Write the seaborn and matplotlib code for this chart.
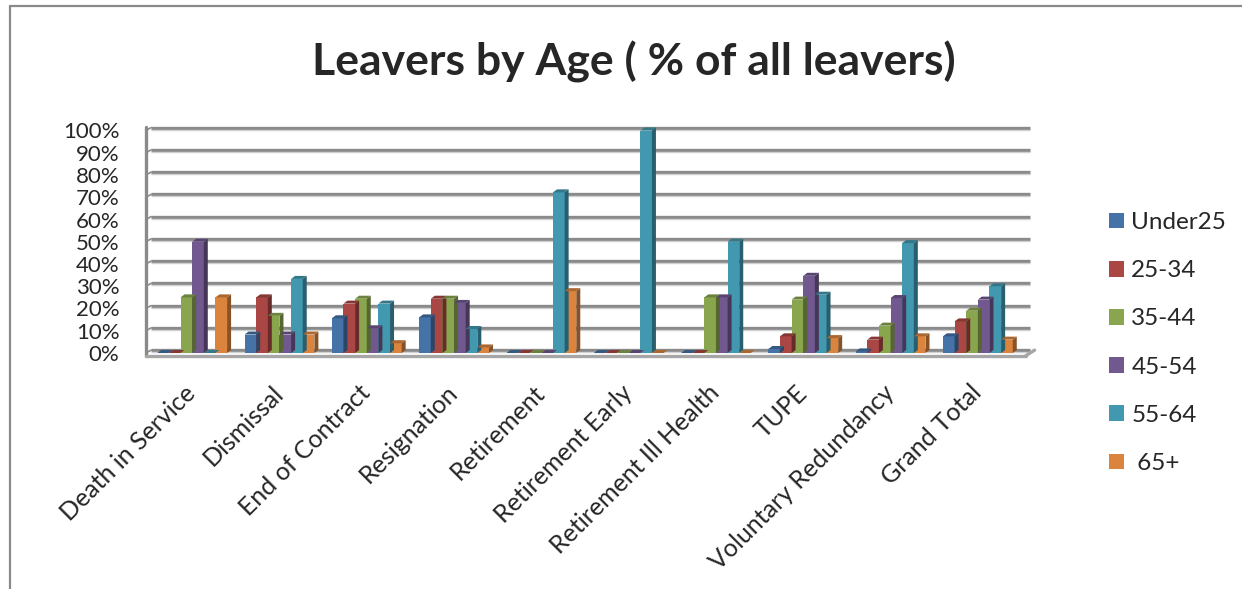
import numpy as np
import pandas as pd
import matplotlib
matplotlib.use("Agg")
import matplotlib.pyplot as plt
import seaborn as sns
from matplotlib.lines import Line2D
from matplotlib.patches import Polygon
from matplotlib.ticker import FuncFormatter
import matplotlib.colors as mcolors

# ---------------- data ----------------
categories = ["Death in Service", "Dismissal", "End of Contract", "Resignation",
              "Retirement", "Retirement Early", "Retirement Ill Health", "TUPE",
              "Voluntary Redundancy", "Grand Total"]
age_groups = ["Under25", "25-34", "35-44", "45-54", "55-64", " 65+"]
under25 = [0, 8.3, 15.6, 16.0, 0, 0, 0, 1.8, 0.7, 7.5]
age_25_34 = [0, 25.0, 22.2, 24.4, 0, 0, 0, 7.5, 6.0, 14.2]
age_35_44 = [25.0, 16.7, 24.4, 24.4, 0, 0, 25.0, 24.0, 12.3, 19.0]
age_45_54 = [50.0, 8.3, 11.1, 22.5, 0, 0, 25.0, 34.7, 24.7, 24.0]
age_55_64 = [0, 33.3, 22.2, 10.8, 72.2, 100.0, 50.0, 26.2, 49.4, 30.0]
age_65_plus = [25.0, 8.3, 4.4, 2.5, 27.8, 0, 0, 6.7, 7.5, 6.0]
y_ticks = [0, 10, 20, 30, 40, 50, 60, 70, 80, 90, 100]

colors = ["#4572A7", "#AA4643", "#89A54E", "#71588F", "#4198AF", "#DB843D"]

series = [under25, age_25_34, age_35_44, age_45_54, age_55_64, age_65_plus]
rows = []
for g, vals in zip(age_groups, series):
    for c, v in zip(categories, vals):
        rows.append({"Category": c, "Age": g, "Percent": v})
df = pd.DataFrame(rows)

# ---------------- figure ----------------
W, H = 1242, 589
fig = plt.figure(figsize=(W / 100, H / 100), dpi=100)
sns.set_style("white")
FONT = ["Lato", "DejaVu Sans"]
plt.rcParams["font.family"] = FONT

ax_left, ax_right = 148.5, 1021.5
ax_bottom, ax_top = 353, 130.5
ax = fig.add_axes([ax_left / W, 1 - ax_bottom / H,
                   (ax_right - ax_left) / W, (ax_bottom - ax_top) / H])

grid_col = "#8a8a8a"
# gridlines (back wall), slightly offset to mimic 3D
for t in y_ticks:
    ax.plot([-0.47, 9.6], [t + 1.3, t + 1.3], color=grid_col, lw=2.4,
            zorder=0, clip_on=False, solid_capstyle="butt")
    ax.plot([-0.47, 9.6], [t + 0.4, t + 0.4], color="#d0d0d0", lw=1.0,
            zorder=0, clip_on=False, solid_capstyle="butt")
    ax.plot([-0.53, -0.47], [t, t + 1.3], color=grid_col, lw=1.2,
            zorder=0, clip_on=False)

sns.barplot(data=df, x="Category", y="Percent", hue="Age", order=categories,
            hue_order=age_groups, palette=colors, width=0.8, saturation=1,
            ax=ax, zorder=3, linewidth=0)

ax.set_xlim(-0.5, 9.5)
ax.set_ylim(0, 100)

# 3D side/top faces from the drawn bar patches
fig.canvas.draw()
px_to_x = 10.0 / (ax_right - ax_left)
px_to_y = 100.0 / (ax_bottom - ax_top)
dx, dy = 4 * px_to_x, 3 * px_to_y
bars = [p for p in ax.patches if hasattr(p, "get_height") and p.get_width() > 0]
for p in bars:
    x0, w, h = p.get_x(), p.get_width(), p.get_height()
    fc = np.array(mcolors.to_rgb(p.get_facecolor()))
    side = Polygon([(x0 + w, 0), (x0 + w + dx, dy), (x0 + w + dx, h + dy), (x0 + w, h)],
                   closed=True, facecolor=tuple(fc * 0.62), edgecolor="none",
                   zorder=3, clip_on=False)
    top = Polygon([(x0, h), (x0 + w, h), (x0 + w + dx, h + dy), (x0 + dx, h + dy)],
                  closed=True, facecolor=tuple(fc * 0.78), edgecolor="none",
                  zorder=3, clip_on=False)
    ax.add_patch(side)
    ax.add_patch(top)

# axes frame: left wall and floor
for s in ["top", "right", "bottom", "left"]:
    ax.spines[s].set_visible(False)
ax.plot([-0.53, -0.53], [-1.2, 101.5], color=grid_col, lw=2.4, clip_on=False, zorder=1)
ax.plot([-0.53, 9.55], [-1.2, -1.2], color="#a6a6a6", lw=2.4, clip_on=False, zorder=4)
ax.plot([9.55, 9.65], [-1.2, 1.3], color="#a6a6a6", lw=2.4, clip_on=False, zorder=4)

ax.set_yticks(y_ticks)
ax.yaxis.set_major_formatter(FuncFormatter(lambda v, _: f"{int(v)}%"))
ax.tick_params(axis="y", length=0, pad=21, labelsize=16)
ax.tick_params(axis="x", length=0, pad=26, labelsize=18)
ax.set_xticks(range(len(categories)))
ax.set_xticklabels(categories, rotation=45, ha="right", va="center",
                   rotation_mode="anchor")
for lbl in ax.get_xticklabels() + ax.get_yticklabels():
    lbl.set_family(FONT)
ax.set_xlabel("")
ax.set_ylabel("")
ax.grid(False)

# legend
handles, labels = ax.get_legend_handles_labels()
if ax.get_legend() is not None:
    ax.get_legend().remove()
fig.legend(handles, labels, loc="upper left",
           bbox_to_anchor=(1109 / W, 1 - 212 / H), frameon=False,
           prop={"family": FONT, "size": 17.5}, handlelength=0.62,
           handleheight=0.62, handletextpad=0.3, labelspacing=1.12,
           borderaxespad=0, borderpad=0)

# title
fig.text(634 / W, 1 - 62 / H, "Leavers by Age ( % of all leavers)",
         ha="center", va="center", fontsize=32, fontweight="bold", family=FONT)

# outer chart frame
fig.add_artist(Line2D([10 / W, 1.0], [1 - 6 / H, 1 - 6 / H], color="#8a8a8a",
                      lw=1.6, transform=fig.transFigure))
fig.add_artist(Line2D([10 / W, 10 / W], [1 - 6 / H, 0], color="#8a8a8a",
                      lw=1.6, transform=fig.transFigure))

fig.savefig("out.png", dpi=100)
